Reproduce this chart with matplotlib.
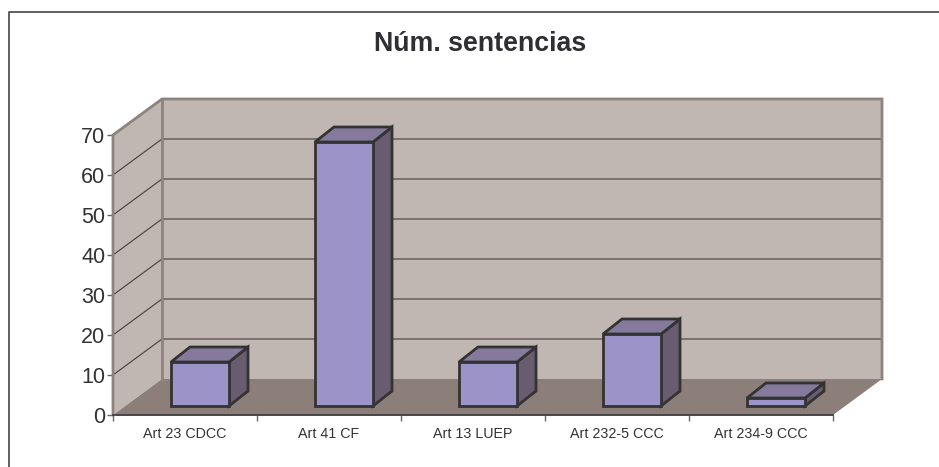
import matplotlib
matplotlib.use("Agg")
import matplotlib.pyplot as plt
from matplotlib.patches import Polygon

plt.rcParams['font.family'] = ['Liberation Sans', 'DejaVu Sans']

title = "Núm. sentencias"
categories = ["Art 23 CDCC", "Art 41 CF", "Art 13 LUEP", "Art 232-5 CCC", "Art 234-9 CCC"]
values = [11, 66, 11, 18, 2]
y_ticks = [0, 10, 20, 30, 40, 50, 60, 70]

W, H = 939, 467
x0, x1 = 113, 833     # front edge of the floor, pixels
y0, y1 = 415, 135     # value 0 and value 70, pixels

# everything below is in data units: x = category, y = value
ux = (x1 - x0) / len(categories)
uy = (y0 - y1) / 70
wall_dx, wall_dy = 49 / ux, 36 / uy
bar_w = 58 / ux
bar_dx, bar_dy = 19 / ux, 15 / uy
bar_off_x, bar_off_y = 15 / ux, 9 / uy

wall_col = '#c0b6b2'
floor_col = '#8c7e79'
edge_col = '#8f8380'
grid_col = '#4a4545'
dark = '#333333'

fig = plt.figure(figsize=(W / 100, H / 100), dpi=100, facecolor='white')
ax = fig.add_axes([x0 / W, 1 - y0 / H, (x1 - x0) / W, (y0 - y1) / H])
ax.set_xlim(0, len(categories))
ax.set_ylim(0, 70)
ax.patch.set_visible(False)
for s in ax.spines.values():
    s.set_visible(False)

n = len(categories)
top = 70


def poly(pts, fc, ec='none', lw=0, z=1):
    ax.add_patch(Polygon(pts, closed=True, facecolor=fc, edgecolor=ec, linewidth=lw,
                         zorder=z, clip_on=False, joinstyle='miter'))


# walls and floor
poly([(wall_dx, wall_dy), (n + wall_dx, wall_dy), (n + wall_dx, top + wall_dy), (wall_dx, top + wall_dy)], wall_col)
poly([(0, 0), (wall_dx, wall_dy), (wall_dx, top + wall_dy), (0, top)], wall_col)
poly([(0, 0), (n, 0), (n + wall_dx, wall_dy), (wall_dx, wall_dy)], floor_col)

# gridlines
for v in y_ticks[1:-1]:
    ax.plot([0, wall_dx, n + wall_dx], [v, v + wall_dy, v + wall_dy], color=grid_col, lw=0.85, zorder=2, clip_on=False)

# wall outlines
ax.plot([0, 0, wall_dx, n + wall_dx, n + wall_dx], [0, top, top + wall_dy, top + wall_dy, wall_dy],
        color=edge_col, lw=2, zorder=3, clip_on=False, solid_joinstyle='miter')
ax.plot([wall_dx, wall_dx], [wall_dy, top + wall_dy], color=edge_col, lw=2, zorder=3, clip_on=False)

# bars
for i, v in enumerate(values):
    left = i + 0.5 - bar_w / 2 + bar_off_x
    right = left + bar_w
    base = bar_off_y
    height = base + v
    poly([(right, base), (right + bar_dx, base + bar_dy), (right + bar_dx, height + bar_dy), (right, height)],
         '#6a5c70', dark, 2, 4)
    poly([(left, height), (right, height), (right + bar_dx, height + bar_dy), (left + bar_dx, height + bar_dy)],
         '#857a9c', dark, 2, 4)
    poly([(left, base), (right, base), (right, height), (left, height)], '#9c94c8', dark, 2, 5)

# axes
ax.plot([0, n], [0, 0], color='#4a4545', lw=1.4, zorder=6, clip_on=False)
ax.set_yticks(y_ticks)
ax.set_xticks(range(n + 1))
ax.set_xticklabels([])
ax.set_xticks([i + 0.5 for i in range(n)], minor=True)
ax.set_xticklabels(categories, minor=True, fontsize=10.3, color='#333333')
ax.tick_params(axis='x', which='major', length=4, width=1, color='#6a6464')
ax.tick_params(axis='x', which='minor', length=0, pad=9)
ax.tick_params(axis='y', length=4, width=1, color='#6a6464', labelsize=15.5, labelcolor='#333333', pad=1.5)

# chart title and the frame (only top and left show)
fig.text(480.5 / W, 1 - 44 / H, title, ha='center', va='center', fontsize=19.3, fontweight='bold', color='#2e2e33')
fig.add_artist(plt.Line2D([8.5 / W, 8.5 / W, 1], [0, 1 - 11.5 / H, 1 - 11.5 / H], color='#444444', lw=1.2))

fig.savefig('out.png', dpi=100)
